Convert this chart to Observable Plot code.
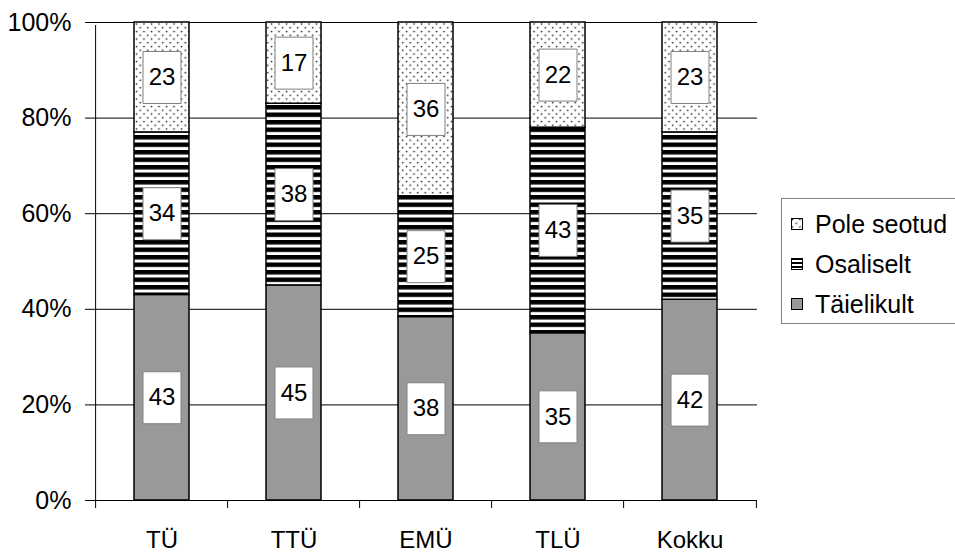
<!DOCTYPE html>
<html>
<head>
<meta charset="utf-8">
<script src="https://cdn.jsdelivr.net/npm/d3@7"></script>
<script src="https://cdn.jsdelivr.net/npm/@observablehq/plot@0.6"></script>
<style>
  html, body { margin: 0; padding: 0; background: white; overflow: hidden; }
  #wrap { position: relative; width: 955px; height: 552px; overflow: hidden; font-family: "Liberation Sans", Arial, sans-serif; }
  #legend { position: absolute; left: 781px; top: 198px; width: 190px; height: 126px; border: 1px solid #808080; background: white; box-sizing: border-box; }
  .item { position: absolute; left: 9px; height: 30px; display: flex; align-items: center; font-size: 25px; color: #000; }
  .item svg { margin-right: 12px; }
</style>
</head>
<body>
<svg width="0" height="0" style="position:absolute">
  <defs>
    <pattern id="dots" patternUnits="userSpaceOnUse" width="7.5" height="7.5">
      <rect width="7.5" height="7.5" fill="white"/>
      <circle cx="1.5" cy="1.5" r="0.9" fill="#222"/>
      <circle cx="5.25" cy="5.25" r="0.9" fill="#222"/>
    </pattern>
    <pattern id="stripes" patternUnits="userSpaceOnUse" width="8" height="7.5">
      <rect width="8" height="7.5" fill="white"/>
      <rect width="8" height="4.5" fill="black"/>
    </pattern>
    <pattern id="stripesSmall" patternUnits="userSpaceOnUse" width="4" height="4">
      <rect width="4" height="4" fill="white"/>
      <rect width="4" height="2" fill="black"/>
    </pattern>
  </defs>
</svg>
<div id="wrap">
  <div id="chart"></div>
  <div id="legend"></div>
</div>
<script>
const categories = ["TÜ", "TTÜ", "EMÜ", "TLÜ", "Kokku"];
const series = ["Täielikult", "Osaliselt", "Pole seotud"];
const taielikult = [43, 45, 38, 35, 42];
const osaliselt = [34, 38, 25, 43, 35];
const poleSeotud = [23, 17, 36, 22, 23];
const yTicks = [0, 0.2, 0.4, 0.6, 0.8, 1];
const legendOrder = ["Pole seotud", "Osaliselt", "Täielikult"];

const fills = ["#999999", "url(#stripes)", "url(#dots)"];
const valuesBySeries = [taielikult, osaliselt, poleSeotud];
const data = [];
categories.forEach((c, i) => {
  series.forEach((s, j) => data.push({cat: c, series: s, value: valuesBySeries[j][i]}));
});

const W = 955, H = 552, mL = 93, mR = 198, mT = 22, mB = 52;
const step = (W - mL - mR) / categories.length;

const boxSymbol = { draw(ctx) { ctx.rect(-19, -26, 38, 52); } };

const plot = Plot.plot({
  width: W, height: H,
  marginLeft: mL, marginRight: mR, marginTop: mT, marginBottom: mB,
  style: { fontFamily: "'Liberation Sans', Arial, sans-serif", fontSize: "24px", background: "white", color: "black" },
  x: { domain: categories, paddingInner: 0.586, paddingOuter: 0.293, label: null, axis: null },
  y: { domain: [0, 1], label: null, axis: null },
  color: { domain: series, range: fills },
  marks: [
    Plot.ruleY(yTicks.slice(1), { stroke: "#000", strokeWidth: 1 }),
    Plot.barY(data, { x: "cat", y: "value", fill: "series", offset: "normalize", stroke: "#000", strokeWidth: 1.5 }),
    Plot.dot(data, Plot.stackY({ x: "cat", y: "value", offset: "normalize", symbol: boxSymbol, r: 1, fill: "white", stroke: "#808080", strokeWidth: 1 })),
    Plot.text(data, Plot.stackY({ x: "cat", y: "value", offset: "normalize", text: d => String(d.value), fontSize: 24, fill: "black" })),
    Plot.ruleY([0], { stroke: "#000", strokeWidth: 1 }),
    Plot.ruleX([categories[0]], { x: d => d, dx: -step / 2, y1: 0, y2: 1, insetBottom: -3, stroke: "#000", strokeWidth: 1 }),
    Plot.ruleX(categories, { x: d => d, dx: -step / 2, y1: 0, y2: 0, insetBottom: -8, stroke: "#000" }),
    Plot.ruleX([categories[categories.length - 1]], { x: d => d, dx: step / 2, y1: 0, y2: 0, insetBottom: -8, stroke: "#000" }),
    Plot.axisY({ ticks: yTicks, tickFormat: d3.format(".0%"), tickSize: 8, tickPadding: 14, fontSize: 25, label: null, stroke: "#000" }),
    Plot.axisX({ tickSize: 0, tickPadding: 30, fontSize: 24, label: null })
  ]
});
document.getElementById("chart").appendChild(plot);

const legend = document.getElementById("legend");
const swatchFill = { "Pole seotud": "url(#dots)", "Osaliselt": "url(#stripesSmall)", "Täielikult": "#999999" };
legendOrder.forEach((s, i) => {
  const item = document.createElement("div");
  item.className = "item";
  item.style.top = (10 + i * 40) + "px";
  item.innerHTML = `<svg width="12" height="12"><rect x="0.5" y="0.5" width="11" height="11" fill="${swatchFill[s]}" stroke="black"/></svg><span>${s}</span>`;
  legend.appendChild(item);
});
</script>
</body>
</html>
